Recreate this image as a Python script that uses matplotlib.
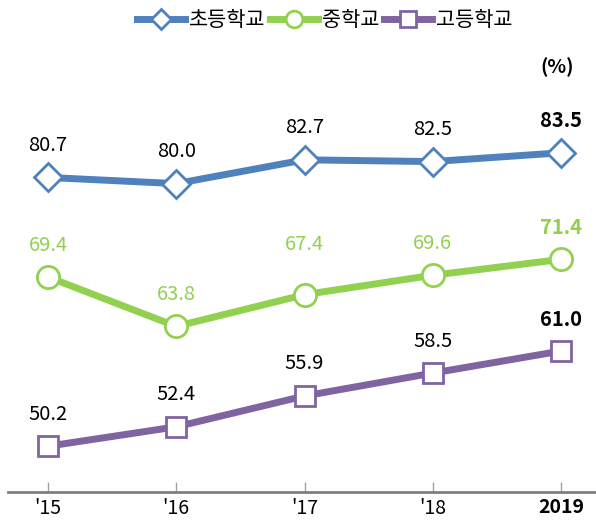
import matplotlib
matplotlib.use("Agg")
import matplotlib.pyplot as plt
from matplotlib.lines import Line2D

plt.rcParams['font.family'] = ['Noto Sans CJK KR', 'DejaVu Sans']

years = ["'15", "'16", "'17", "'18", "2019"]
elementary = [80.7, 80.0, 82.7, 82.5, 83.5]
middle = [69.4, 63.8, 67.4, 69.6, 71.4]
high = [50.2, 52.4, 55.9, 58.5, 61.0]
series_names = ["초등학교", "중학교", "고등학교"]

blue = "#4F81BD"
green = "#92D050"
purple = "#8064A2"

W, H = 596, 525
fig = plt.figure(figsize=(W / 100, H / 100), dpi=100)
ax = fig.add_axes([8 / W, 1 - 492 / H, (596 - 8) / W, (492 - 7.4) / H])

x = list(range(len(years)))
specs = [
    (elementary, blue, 'D', 14, 'black'),
    (middle, green, 'o', 16, green),
    (high, purple, 's', 15, 'black'),
]
handles = []
for (vals, col, mk, ms, tcol), name in zip(specs, series_names):
    ax.plot(x, vals, color=col, lw=5, marker=mk, markersize=ms,
            markerfacecolor='white', markeredgecolor=col, markeredgewidth=2, zorder=3,
            solid_capstyle='butt')
    handles.append(Line2D([0], [0], color=col, lw=5, marker=mk, markersize=ms * 0.75,
                          markerfacecolor='white', markeredgecolor=col, markeredgewidth=2))
    for i, v in enumerate(vals):
        off = 32
        if vals is middle and i == 2:
            off = 50
        ax.annotate(f"{v:.1f}", (i, v), xytext=(0, off), textcoords='offset pixels',
                    ha='center', va='center', fontsize=14.5, color=tcol,
                    fontweight='bold' if i == len(vals) - 1 else 'normal')

ax.set_xlim(-0.312, 4.273)
ax.set_ylim(45, 100)
for s in ['top', 'right', 'left']:
    ax.spines[s].set_visible(False)
ax.spines['bottom'].set_color('#808080')
ax.spines['bottom'].set_linewidth(2)
ax.set_yticks([])
ax.set_xticks(x)
ax.set_xticklabels(years)
ax.tick_params(axis='x', direction='in', length=7, width=1, color='#A0A0A0',
               labelsize=14, pad=4)
for lbl in ax.get_xticklabels():
    if lbl.get_text() == "2019":
        lbl.set_fontweight('bold')

fig.text(557 / W, 1 - 67 / H, "(%)", ha='center', va='center', fontsize=14, fontweight='bold')

fig.legend(handles, series_names, loc='center', bbox_to_anchor=(0.545, 1 - 20 / H),
           ncol=3, frameon=False, fontsize=15, handlelength=2.3, columnspacing=0.2,
           handletextpad=0.2)

fig.savefig("out.png", dpi=100)
